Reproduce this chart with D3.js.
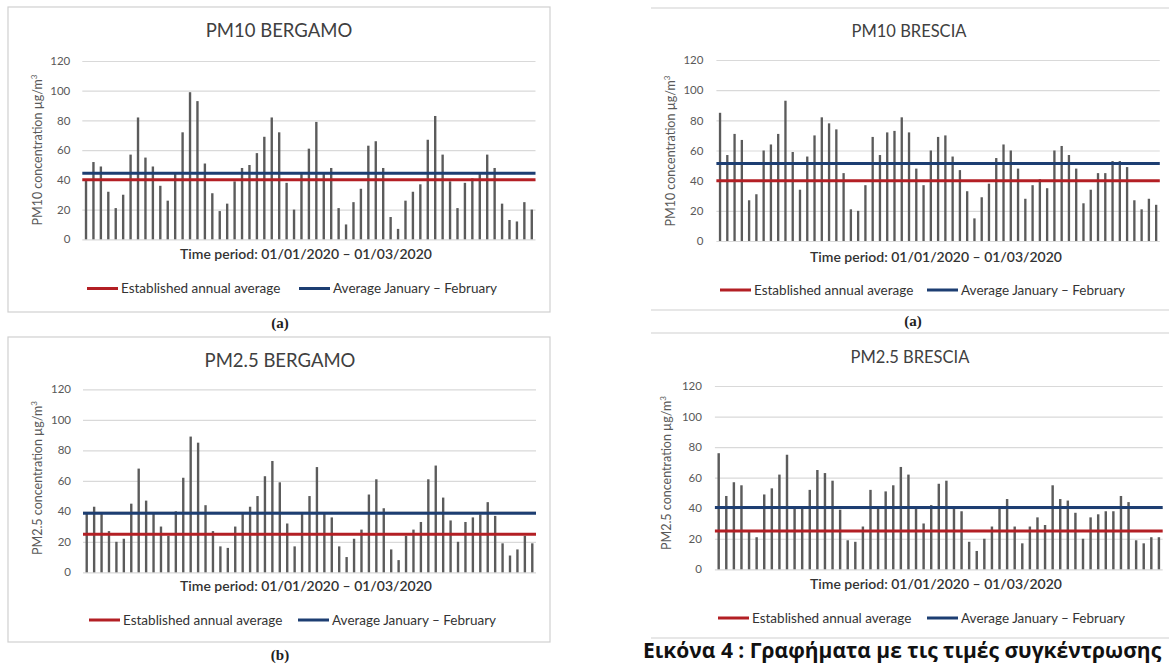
<!DOCTYPE html>
<html><head><meta charset="utf-8">
<script src="https://cdn.jsdelivr.net/npm/d3@7"></script>
<style>body{margin:0;background:#fff;} svg{display:block;}</style>
</head><body>
<svg id="c" width="1169" height="666"></svg>
<script>
// ---- data (µg/m³), daily values 01/01/2020 – 01/03/2020 ----
const pm10Bergamo = [40,52,49,32,21,30,57,82,55,49,36,26,45,72,99,93,51,31,19,24,39,48,50,58,69,82,72,38,20,44,61,79,44,48,21,10,25,34,63,66,48,15,7,26,32,37,67,83,57,39,21,38,41,45,57,48,24,13,12,25,20];
const pm25Bergamo = [39,43,39,27,20,22,45,68,47,39,30,24,40,62,89,85,44,27,17,16,30,39,43,50,63,73,59,32,17,39,50,69,39,36,17,10,22,28,51,61,42,15,8,24,28,33,61,70,49,34,20,33,36,38,46,37,19,11,15,24,19];
const pm10Brescia = [85,57,71,67,27,31,60,64,71,93,59,34,56,70,82,78,74,45,21,20,37,69,57,72,73,82,72,48,37,60,69,70,56,47,33,15,29,38,55,64,60,48,28,37,41,35,60,63,57,48,25,34,45,45,53,53,49,27,21,28,24];
const pm25Brescia = [76,48,57,55,25,21,49,53,62,75,40,40,52,65,63,58,39,19,18,28,52,40,51,55,67,62,40,30,42,56,58,40,38,18,12,20,28,40,46,28,17,28,34,29,55,46,45,37,20,34,36,38,38,48,44,19,17,21,21];
const annualAverage = [40, 25, 40, 25];
const janFebAverage = [44.4, 38.7, 51.3, 40.4];
const titles = ["PM10 BERGAMO", "PM2.5 BERGAMO", "PM10 BRESCIA", "PM2.5 BRESCIA"];
const yLabels = ["PM10 concentration µg/m", "PM2.5 concentration µg/m", "PM10 concentration µg/m", "PM2.5 concentration µg/m"];
const yTicks = [0, 20, 40, 60, 80, 100, 120];
const xTitle = "Time period: 01/01/2020 – 01/03/2020";
const legendLabels = ["Established annual average", "Average January – February"];
const subLabels = ["(a)", "(b)", "(a)", null];
const caption = "Εικόνα 4 : Γραφήματα με τις τιμές συγκέντρωσης";

const series = [pm10Bergamo, pm25Bergamo, pm10Brescia, pm25Brescia];

// ---- layout ----
const layouts = [
  {box:[8,7,550,312], full:true, plot:[82.3,535.5], y0:239.3, y1:61, title:[279,31], tfs:18.5, ylab:[38,150], time:[306,254], legY:288.5, legX:[87,299], sub:[280,323], tickPad:12},
  {box:[8,337,550,642], full:true, plot:[83,536], y0:572.3, y1:389.3, title:[280,361], tfs:18.5, ylab:[38,478], time:[306,586], legY:620, legX:[89,298], sub:[280,655], tickPad:12},
  {box:[651,8,1169,310], full:false, plot:[716.4,1159.8], y0:241, y1:60, title:[909,31], tfs:16.5, ylab:[671,151], time:[936,257], legY:290, legX:[720,927], sub:[913,321], tickPad:13},
  {box:[651,333,1169,638], full:false, plot:[714.9,1162.7], y0:569.3, y1:386, title:[910,357], tfs:16.5, ylab:[667,473], time:[936,584], legY:618, legX:[718,927], sub:null, tickPad:13}
];

const RED = "#b31f24", BLUE = "#1d3e72", BAR = "#5b5b5b", GRID = "#d9d9d9";
const FONT = "Lato, 'Open Sans', sans-serif";
const svg = d3.select("#c");

series.forEach((vals, k) => {
  const L = layouts[k];
  const g = svg.append("g");
  const [bx0, by0, bx1, by1] = L.box;
  if (L.full) {
    g.append("rect").attr("x", bx0).attr("y", by0).attr("width", bx1 - bx0).attr("height", by1 - by0)
      .attr("fill", "#fff").attr("stroke", "#d0d0d0").attr("stroke-width", 1.2);
  } else {
    [by0, by1].forEach(yy => g.append("line").attr("x1", bx0).attr("x2", bx1).attr("y1", yy).attr("y2", yy)
      .attr("stroke", "#d0d0d0").attr("stroke-width", 1.2));
  }
  const cats = d3.range(vals.length);
  const x = d3.scaleBand().domain(cats).range(L.plot).paddingInner(0.68).paddingOuter(0.34);
  const y = d3.scaleLinear().domain([0, 120]).range([L.y0, L.y1]);

  const ax = g.append("g").attr("transform", `translate(${L.plot[0]},0)`)
    .call(d3.axisLeft(y).tickValues(yTicks).tickSize(-(L.plot[1] - L.plot[0])).tickPadding(L.tickPad));
  ax.select(".domain").remove();
  ax.selectAll(".tick line").attr("stroke", GRID).attr("stroke-width", 1.2);
  ax.selectAll(".tick text").attr("fill", "#595959").style("font-family", FONT).style("font-size", "11.5px");

  g.append("g").selectAll("rect").data(vals).join("rect")
    .attr("x", (d, i) => x(i)).attr("width", x.bandwidth())
    .attr("y", d => y(d)).attr("height", d => y(0) - y(d))
    .attr("fill", BAR);

  [[annualAverage[k], RED], [janFebAverage[k], BLUE]].forEach(([v, c]) => {
    g.append("line").attr("x1", L.plot[0]).attr("x2", L.plot[1]).attr("y1", y(v)).attr("y2", y(v))
      .attr("stroke", c).attr("stroke-width", 3);
  });

  g.append("text").attr("x", L.title[0]).attr("y", L.title[1] + 0.35 * L.tfs).attr("text-anchor", "middle")
    .style("font-family", FONT).style("font-size", L.tfs + "px").attr("fill", "#404040").text(titles[k]);

  const yl = g.append("text").attr("transform", `translate(${L.ylab[0] + 4},${L.ylab[1]}) rotate(-90)`)
    .attr("text-anchor", "middle").style("font-family", FONT).style("font-size", "12.5px").attr("fill", "#595959");
  yl.append("tspan").text(yLabels[k]);
  yl.append("tspan").attr("dy", -5).style("font-size", "8px").text("3");

  g.append("text").attr("x", L.time[0]).attr("y", L.time[1] + 5).attr("text-anchor", "middle")
    .style("font-family", FONT).style("font-size", "14px").style("font-weight", "600").attr("fill", "#333")
    .text(xTitle);

  legendLabels.forEach((lab, j) => {
    const lx = L.legX[j];
    g.append("line").attr("x1", lx).attr("x2", lx + 31).attr("y1", L.legY).attr("y2", L.legY)
      .attr("stroke", j === 0 ? RED : BLUE).attr("stroke-width", 3);
    g.append("text").attr("x", lx + 34).attr("y", L.legY + 4.7)
      .style("font-family", FONT).style("font-size", "13.5px").attr("fill", "#333").text(lab);
  });

  if (subLabels[k]) {
    g.append("text").attr("x", L.sub[0]).attr("y", L.sub[1] + 5).attr("text-anchor", "middle")
      .style("font-family", "'Liberation Serif', serif").style("font-size", "15px").style("font-weight", "bold")
      .attr("fill", "#222").text(subLabels[k]);
  }
});

svg.append("text").attr("x", 643).attr("y", 658)
  .style("font-family", "'Open Sans', 'Noto Sans', sans-serif").style("font-size", "21px").style("font-weight", "bold")
  .attr("fill", "#111").text(caption);
</script>
</body></html>
